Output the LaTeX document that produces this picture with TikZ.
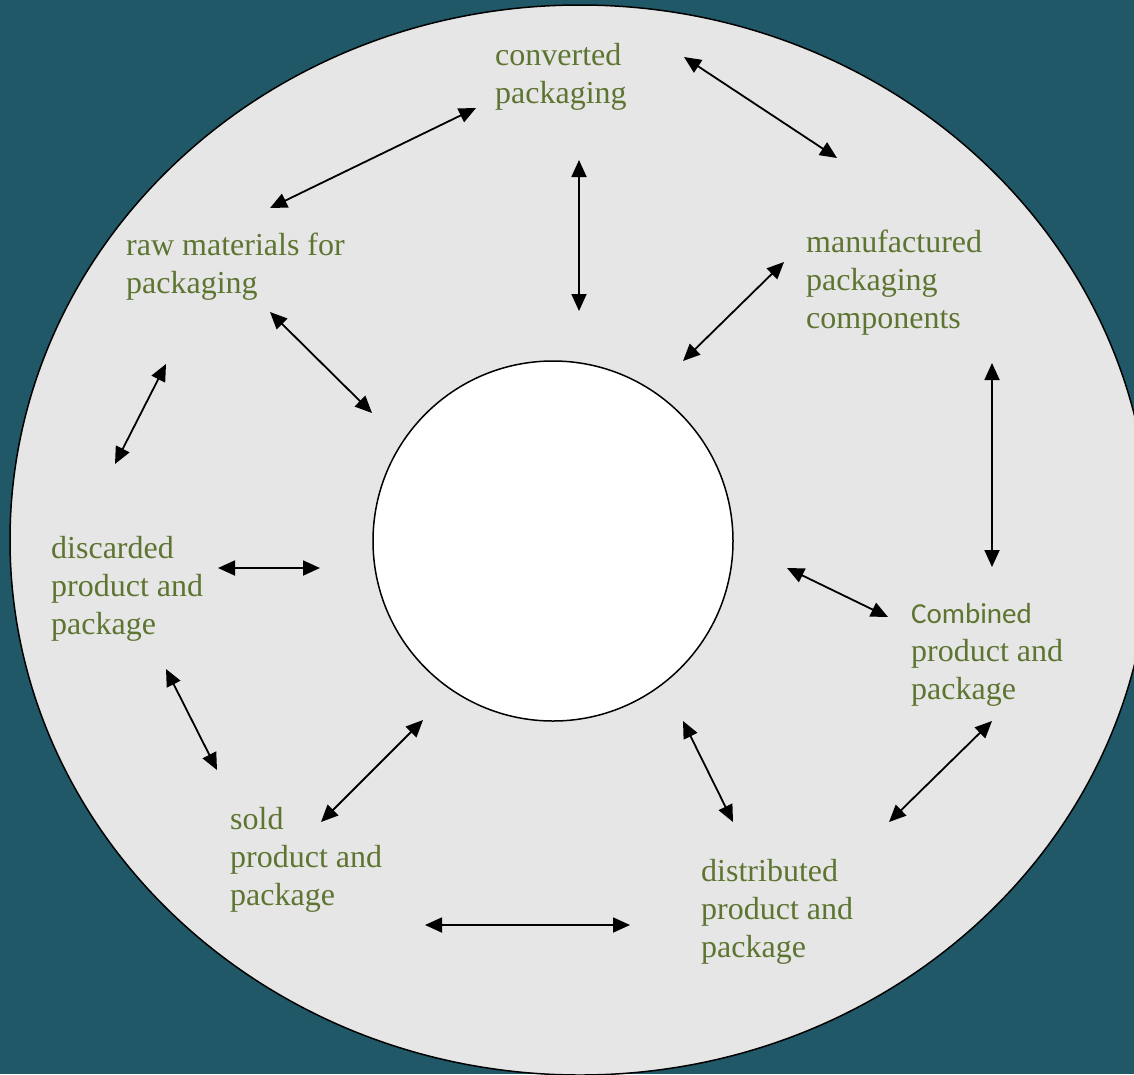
\documentclass[tikz,border=0pt]{standalone}
\usepackage{fontspec}
\setmainfont{Liberation Serif}
\newfontfamily\sanslabel{Carlito}
\usetikzlibrary{arrows.meta}
\definecolor{deepteal}{RGB}{33,88,104}
\definecolor{ringgray}{RGB}{230,230,230}
\definecolor{labelgreen}{RGB}{94,117,50}
\begin{document}
\begin{tikzpicture}[x=1pt,y=-1pt,
  lbl/.style={anchor=base west, align=left, inner sep=0pt, text=labelgreen,
              font=\fontsize{32}{38}\selectfont},
  link/.style={line width=1.8pt,
               {Triangle[length=17pt,width=15pt]}-{Triangle[length=17pt,width=15pt]}}]
\useasboundingbox (0,0) rectangle (1134,1074);
\fill[deepteal] (0,0) rectangle (1134,1074);
% outer ring
\begin{scope}
  \clip (0,0) rectangle (1134,1074);
  \draw[fill=ringgray, line width=1.5pt] (580,540) ellipse [x radius=570, y radius=535];
\end{scope}
% centre disc
\node[draw, circle, fill=white, line width=1.5pt, minimum size=360pt, inner sep=0pt] (core) at (553,541) {};

% stage labels (anchored on the baseline of the last line)
\node[lbl] (conv) at (495,103) {converted\\packaging};
\node[lbl] (manu) at (806,328) {manufactured\\packaging\\components};
\node[lbl] (comb) at (911,699) {{\sanslabel\fontsize{29}{38}\selectfont Combined}\\product and\\package};
\node[lbl] (dist) at (701,957) {distributed\\product and\\package};
\node[lbl] (sold) at (230,905) {sold\\product and\\package};
\node[lbl] (disc) at (51,634) {discarded\\product and\\package};
\node[lbl] (raw) at (126,293) {raw materials for\\packaging};

% connector end points
\coordinate (rc1) at (270,208);  \coordinate (rc2) at (476,108);
\coordinate (cm1) at (684,57);   \coordinate (cm2) at (837,158);
\coordinate (cz1) at (579,160);  \coordinate (cz2) at (579,311);
\coordinate (mz1) at (784,262);  \coordinate (mz2) at (683,361);
\coordinate (mb1) at (992,363);  \coordinate (mb2) at (992,567);
\coordinate (zb1) at (787,568);  \coordinate (zb2) at (888,617);
\coordinate (bd1) at (992,721);  \coordinate (bd2) at (889,822);
\coordinate (zd1) at (683,721);  \coordinate (zd2) at (733,822);
\coordinate (ds1) at (630,925);  \coordinate (ds2) at (425,925);
\coordinate (zs1) at (423,720);  \coordinate (zs2) at (321,822);
\coordinate (sx1) at (217,770);  \coordinate (sx2) at (166,669);
\coordinate (xz1) at (218,568);  \coordinate (xz2) at (320,568);
\coordinate (xr1) at (115,464);  \coordinate (xr2) at (166,364);
\coordinate (rz1) at (270,312);  \coordinate (rz2) at (372,413);

% two-way connectors
\draw[link] (rc1) -- (rc2);
\draw[link] (cm1) -- (cm2);
\draw[link] (cz1) -- (cz2);
\draw[link] (mz1) -- (mz2);
\draw[link] (mb1) -- (mb2);
\draw[link] (zb1) -- (zb2);
\draw[link] (bd1) -- (bd2);
\draw[link] (zd1) -- (zd2);
\draw[link] (ds1) -- (ds2);
\draw[link] (zs1) -- (zs2);
\draw[link] (sx1) -- (sx2);
\draw[link] (xz1) -- (xz2);
\draw[link] (xr1) -- (xr2);
\draw[link] (rz1) -- (rz2);
\end{tikzpicture}
\end{document}
